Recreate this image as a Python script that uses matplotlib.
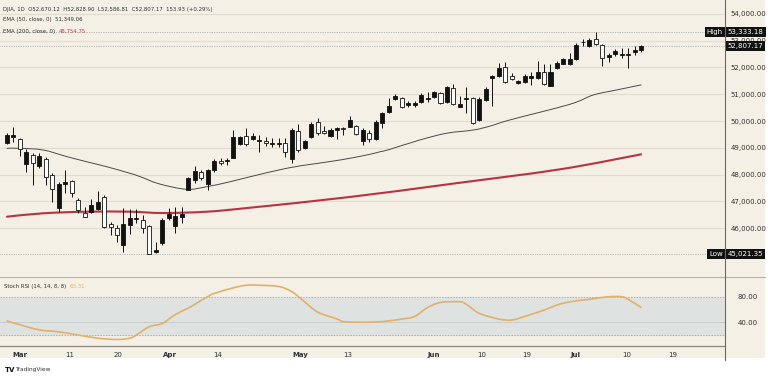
import numpy as np
import matplotlib
matplotlib.use("Agg")
import matplotlib.pyplot as plt
from matplotlib.patches import Rectangle, PathPatch
from matplotlib.path import Path
from matplotlib.lines import Line2D

# daily candles, DJIA 1D
opens = [49189, 49413, 49316, 48393, 48729, 48318, 48568, 47981, 46737, 47645,
         47768, 47047, 46572, 46610, 46699, 47170, 46139, 45989, 45365, 46112,
         46326, 46299, 46075, 45103, 45451, 46385, 46075, 46400, 47421, 47795,
         48105, 47645, 48168, 48505, 48505, 48628, 49159, 49458, 49327, 49252,
         49264, 49152, 49129, 49166, 48568, 49626, 48980, 49391, 49974, 49637,
         49451, 49664, 49750, 49787, 49824, 49264, 49563, 49316, 49914, 50348,
         50811, 50849, 50598, 50598, 50699, 50834, 50886, 51058, 50699, 51245,
         50535, 50822, 50849, 50037, 50785, 51596, 51682, 52030, 51693, 51409,
         51447, 51619, 51596, 51843, 51320, 51970, 52131, 52120, 52306, 52942,
         52815, 53065, 52841, 52404, 52493, 52478, 52478, 52590, 52670.12]
highs = [49540, 49765, 49353, 48942, 48793, 48793, 48666, 48068, 47731, 48168,
         47795, 47111, 46774, 47073, 47395, 47234, 46236, 46112, 46737, 46699,
         46699, 46486, 46112, 45488, 46363, 46737, 46774, 46797, 47918, 48318,
         48168, 48195, 48568, 48606, 48606, 49664, 49439, 49757, 49563, 49477,
         49391, 49353, 49353, 49353, 49727, 49888, 49290, 49974, 50101, 49813,
         49727, 49787, 49787, 50187, 49850, 49727, 49664, 50037, 50348, 50849,
         50998, 50908, 50759, 50759, 51035, 51095, 51133, 51095, 51308, 51383,
         50935, 51260, 50908, 50908, 51260, 51720, 52157, 52217, 51783, 51533,
         51746, 51843, 52243, 52120, 52120, 52243, 52344, 52531, 52904, 53065,
         53091, 53333.18, 52867, 52531, 52691, 52740, 52740, 52815, 52828.90]
lows = [49140, 49226, 48692, 48105, 47608, 48232, 47608, 46983, 46610, 47297,
        47170, 46572, 46400, 46550, 46673, 45989, 45739, 45488, 45114, 45776,
        46176, 45802, 45021.35, 45055, 45365, 46299, 45825, 46176, 47421, 47671,
        47795, 47421, 48105, 48355, 48355, 48606, 49103, 49066, 49290, 48852,
        49066, 49039, 49039, 48666, 48441, 48852, 48953, 49353, 49477, 49514,
        49413, 49316, 49477, 49765, 49477, 49103, 49226, 49290, 49727, 50310,
        50785, 50475, 50535, 50535, 50662, 50721, 50849, 50635, 50684, 50598,
        50512, 50288, 49888, 50000, 50759, 50561, 51656, 51432, 51533, 51383,
        51409, 51346, 51570, 51346, 51308, 51944, 52120, 52093, 52280, 52815,
        52777, 52841, 52067, 52217, 52441, 52344, 51992, 52467, 52586.81]
closes = [49477, 49477, 48942, 48830, 48441, 48692, 47896, 47447, 47645, 47709,
          47297, 46673, 46423, 46860, 46983, 46027, 46049, 45739, 46150, 46363,
          46385, 45989, 45028, 45178, 46299, 46512, 46449, 46512, 47858, 48131,
          47858, 48168, 48505, 48419, 48542, 49391, 49402, 49122, 49439, 49290,
          49166, 49189, 49166, 48852, 49664, 48916, 49252, 49888, 49563, 49540,
          49664, 49750, 49690, 50037, 49503, 49664, 49316, 49974, 50288, 50561,
          50946, 50512, 50662, 50684, 50972, 50871, 51095, 50662, 51260, 50635,
          50624, 50849, 49914, 50811, 51185, 51682, 51970, 51469, 51570, 51495,
          51693, 51682, 51820, 51372, 51843, 52157, 52306, 52306, 52841, 52964,
          53028, 52867, 52344, 52467, 52628, 52504, 52504, 52654, 52807.17]

# moving averages, sampled along the curves (candle index, price)
ema50_idx = [0, 2, 5.6, 9.3, 12.3, 15.4, 19, 20.6, 23.6, 27.8, 30.9, 34.5, 37.6,
             43.2, 47.3, 51.5, 55.6, 57.7, 59.2, 63.8, 67.9, 72.1, 74.7, 77.7,
             87, 90.6, 94.2, 98]
ema50_val = [48980, 48980, 48916, 48666, 48479, 48292, 48045, 47918, 47645, 47447,
             47545, 47731, 47918, 48232, 48393, 48543, 48730, 48853, 48943, 49290,
             49541, 49664, 49813, 50038, 50625, 50972, 51159, 51349.06]
ema200_idx = [0, 5.6, 12.3, 19, 24.1, 30.9, 37.6, 53, 68.5, 85.5, 98]
ema200_val = [46423, 46550, 46610, 46610, 46560, 46610, 46760, 47160, 47645,
              48195, 48754.75]

# Stoch RSI (14, 14, 8, 8)
stoch_idx = [0, 2, 5, 8, 11, 14, 17, 19, 20, 22, 24, 26, 28, 29, 31, 32, 35, 37,
             39, 42, 44, 46, 48, 51, 52, 55, 58, 61, 63, 65, 67, 70, 71, 73, 76,
             78, 80, 83, 85, 87, 90, 93, 95, 96, 98]
stoch_val = [42, 36, 28, 25, 20, 15, 13, 15, 20, 33, 38, 52, 62, 68, 80, 85, 94,
             98, 98, 96, 88, 72, 56, 45, 41, 40, 41, 45, 49, 63, 71, 72, 68, 54,
             45, 43.5, 49, 59, 67, 72, 76, 80, 80, 76, 63.31]

tick_pos = [2.0, 9.7, 17.2, 25.2, 32.6, 45.3, 52.7, 65.9, 73.4, 80.4, 87.8, 95.8, 102.9]
tick_lab = ["Mar", "11", "20", "Apr", "14", "May", "13", "Jun", "10", "19", "Jul", "10", "19"]
price_ticks = [46000, 47000, 48000, 49000, 50000, 51000, 52000, 53000, 54000]

cream = "#f4f0e6"
grid = "#e3ddd0"
W, H = 768, 379


def smooth_line(a, xs, ys, **kw):
    # draw a curve through the read points (Catmull-Rom as cubic Beziers)
    pts = np.column_stack([xs, ys]).astype(float)
    n = len(pts)
    verts = [pts[0]]
    codes = [Path.MOVETO]
    for i in range(n - 1):
        p0 = pts[max(i - 1, 0)]
        p1 = pts[i]
        p2 = pts[i + 1]
        p3 = pts[min(i + 2, n - 1)]
        verts += [p1 + (p2 - p0) / 6, p2 - (p3 - p1) / 6, p2]
        codes += [Path.CURVE4] * 3
    a.add_patch(PathPatch(Path(verts, codes), fill=False, capstyle="round",
                          joinstyle="round", **kw))


fig = plt.figure(figsize=(W / 100, H / 100), dpi=100)
fig.patch.set_facecolor("white")
fig.patches.append(Rectangle((0, 1 - 358 / H), 765 / W, 358 / H, transform=fig.transFigure,
                             facecolor=cream, edgecolor="none", zorder=-5))

ax = fig.add_axes([0, 1 - 277 / H, 725 / W, 277 / H])
ax2 = fig.add_axes([0, 1 - 346 / H, 725 / W, 69 / H], sharex=ax)
for a in (ax, ax2):
    a.set_facecolor(cream)
    for s in a.spines.values():
        s.set_visible(False)

# candles
x = np.arange(len(closes))
o = np.array(opens); c = np.array(closes)
hi = np.array(highs); lo = np.array(lows)
up = c >= o
ax.vlines(x, lo, hi, color="#111111", linewidth=0.7, zorder=3)
bot = np.minimum(o, c)
hgt = np.maximum(np.abs(c - o), 12)
ax.bar(x[up], hgt[up], bottom=bot[up], width=0.62, color="#111111",
       edgecolor="#111111", linewidth=0.6, zorder=4)
ax.bar(x[~up], hgt[~up], bottom=bot[~up], width=0.62, color="white",
       edgecolor="#111111", linewidth=0.6, zorder=4)

smooth_line(ax, ema50_idx, ema50_val, edgecolor="#4a4a4a", linewidth=0.7, zorder=2)
smooth_line(ax, ema200_idx, ema200_val, edgecolor="#b8323f", linewidth=1.5, zorder=2)

ax.set_xlim(-1.08, 110.97)
ax.set_ylim(44169, 54523)
for p in price_ticks:
    ax.axhline(p, color=grid, linewidth=0.8, zorder=1)
ax.axhline(53333.18, color="#8a8a8a", linewidth=0.5, linestyle=(0, (1, 1.5)), zorder=1)
ax.axhline(52807.17, color="#8a8a8a", linewidth=0.5, linestyle=(0, (1, 1.5)), zorder=1)
ax.axhline(45021.35, color="#8a8a8a", linewidth=0.5, linestyle=(0, (1, 1.5)), zorder=1)
ax.tick_params(axis="x", bottom=False, labelbottom=False)
ax.yaxis.tick_right()
ax.set_yticks(price_ticks)
ax.set_yticklabels([f"{p:,.2f}" for p in price_ticks])
ax.tick_params(axis="y", length=0, pad=4, labelsize=5, labelcolor="#333333")

# price boxes
def tag(y, txt, left=None):
    ax.annotate(txt, xy=(1.004, y), xycoords=("axes fraction", "data"), fontsize=5,
                color="white", va="center", ha="left", zorder=10, annotation_clip=False,
                bbox=dict(boxstyle="square,pad=0.25", fc="#111111", ec="none"))
    if left:
        ax.annotate(left, xy=(0.997, y), xycoords=("axes fraction", "data"), fontsize=5,
                    color="white", va="center", ha="right", zorder=10, annotation_clip=False,
                    bbox=dict(boxstyle="square,pad=0.25", fc="#111111", ec="none"))

tag(53333.18, "53,333.18", "High")
tag(52807.17, "52,807.17")
tag(45021.35, "45,021.35", "Low")

# header
hx = 3 / W
fig.text(hx, 1 - 9 / H, "DJIA, 1D  O52,670.12  H52,828.90  L52,586.81  C52,807.17  153.93 (+0.29%)",
         fontsize=3.9, color="#333333", va="center")
fig.text(hx, 1 - 20 / H, "EMA (50, close, 0)  51,349.06", fontsize=3.9, color="#333333", va="center")
t = fig.text(hx, 1 - 31 / H, "EMA (200, close, 0)  ", fontsize=3.9, color="#333333", va="center")
fig.canvas.draw()
bb = t.get_window_extent()
fig.text(bb.x1 / W, 1 - 31 / H, "48,754.75", fontsize=3.9, color="#c0404a", va="center")

# stoch pane
ax2.set_ylim(2.75, 110.9)
ax2.axhspan(20, 80, color="#dee2e1", zorder=1)
ax2.axhline(80, color="#9aa0a0", linewidth=0.5, linestyle=(0, (2, 2)), zorder=2)
ax2.axhline(20, color="#9aa0a0", linewidth=0.5, linestyle=(0, (2, 2)), zorder=2)
ax2.axhline(40, color="#c8cccb", linewidth=0.7, zorder=2)
smooth_line(ax2, stoch_idx, stoch_val, edgecolor="#e2b06a", linewidth=1.2, zorder=3)
ax2.yaxis.tick_right()
ax2.set_yticks([40, 80])
ax2.set_yticklabels(["40.00", "80.00"])
ax2.tick_params(axis="y", length=0, pad=9, labelsize=5, labelcolor="#333333")
ax2.set_xticks(tick_pos)
ax2.set_xticklabels(tick_lab)
ax2.tick_params(axis="x", length=0, pad=4, labelsize=5, labelcolor="#333333")
for lbl in ax2.get_xticklabels():
    if lbl.get_text().isalpha():
        lbl.set_fontweight("bold")
st_txt = ax2.text(0.005, 0.86, "Stoch RSI (14, 14, 8, 8)  ", transform=ax2.transAxes, fontsize=3.9,
                  color="#333333", va="center")
fig.canvas.draw()
st = st_txt.get_window_extent()
fig.text(st.x1 / W, ax2.transAxes.transform((0, 0.86))[1] / H, "63.31", fontsize=3.9,
         color="#e2b06a", va="center")

# frame lines
fig.lines.append(Line2D([0, 765 / W], [1 - 277 / H] * 2, transform=fig.transFigure,
                        color="#b9b3a6", linewidth=0.8))
fig.lines.append(Line2D([0, 725 / W], [1 - 346 / H] * 2, transform=fig.transFigure,
                        color="#8c877c", linewidth=0.9))
fig.lines.append(Line2D([725 / W] * 2, [1 - 360 / H, 1], transform=fig.transFigure,
                        color="#6e6a62", linewidth=0.8))

fig.text(5 / W, 1 - 370 / H, "TV", fontsize=5, fontweight="bold", color="#111111", va="center")
fig.text(15 / W, 1 - 370 / H, "TradingView", fontsize=4.2, color="#333333", va="center")

fig.savefig("out.png", dpi=100, facecolor=fig.get_facecolor())
